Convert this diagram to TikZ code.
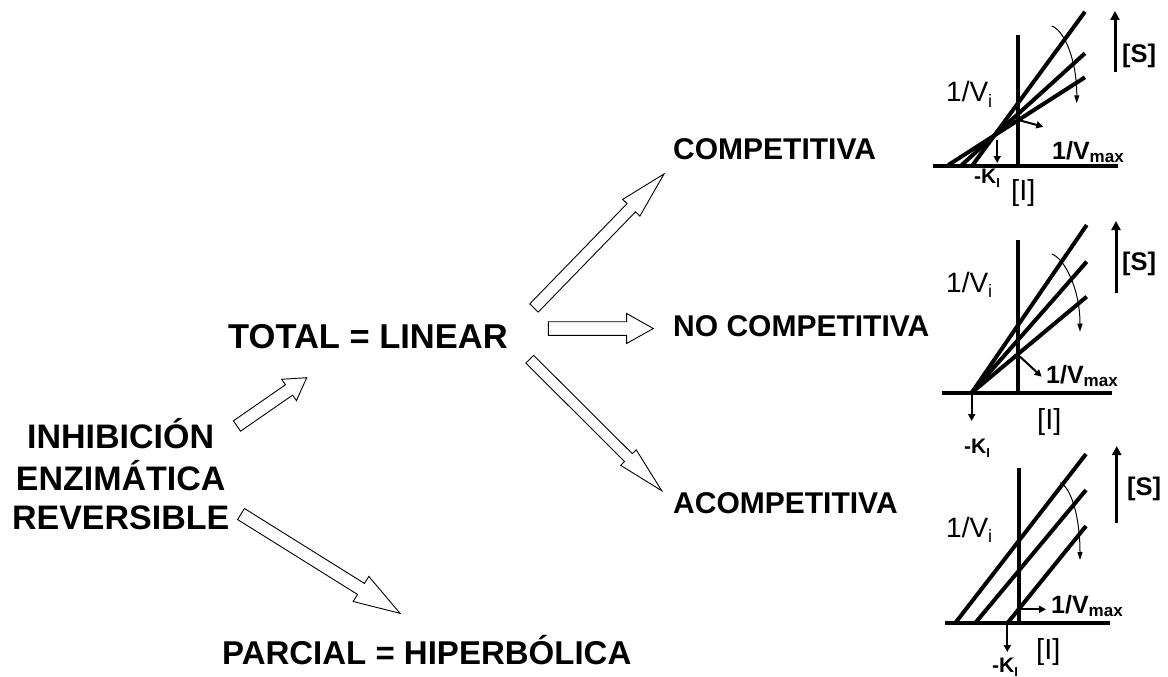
\documentclass[tikz,border=0pt]{standalone}
\usepackage{fontspec}
\setmainfont{Liberation Sans}
\usetikzlibrary{calc,arrows.meta}
\newcommand{\subtxt}[3][0.2em]{\raisebox{-#1}{\fontsize{#2}{#2}\selectfont #3}}
\newcommand{\myblockarrow}[5]{%
 \draw[blockarr] let \p1=($(#2)-(#1)$), \n1={atan2(\y1,\x1)} in
 ($(#1)+(\n1+90:#3pt)$) -- ($(#2)+(\n1+180:#5pt)+(\n1+90:#3pt)$) -- ($(#2)+(\n1+180:#5pt)+(\n1+90:#4pt)$) -- (#2) -- ($(#2)+(\n1+180:#5pt)+(\n1-90:#4pt)$) -- ($(#2)+(\n1+180:#5pt)+(\n1-90:#3pt)$) -- ($(#1)+(\n1-90:#3pt)$) -- cycle;}
\begin{document}
\begin{tikzpicture}[x=1pt,y=-1pt,
  bigtxt/.style={inner sep=0pt, anchor=base west, font=\fontsize{34.5}{40}\selectfont\bfseries},
  inhtxt/.style={inner sep=0pt, anchor=base, font=\fontsize{34}{40}\selectfont\bfseries},
  midtxt/.style={inner sep=0pt, anchor=base west, font=\fontsize{30}{36}\selectfont\bfseries},
  vitxt/.style={inner sep=0pt, anchor=base west, font=\fontsize{28}{32}\selectfont},
  vmaxtxt/.style={inner sep=0pt, anchor=base west, font=\fontsize{25}{30}\selectfont\bfseries},
  kitxt/.style={inner sep=0pt, anchor=base west, font=\fontsize{21}{25}\selectfont\bfseries},
  itxt/.style={inner sep=0pt, anchor=base west, font=\fontsize{29}{33}\selectfont},
  stxt/.style={inner sep=0pt, anchor=base west, font=\fontsize{25.5}{30}\selectfont\bfseries},
  blockarr/.style={draw=black, line width=0.9pt, fill=white, line join=miter},
  axisline/.style={line width=4pt},
  plotline/.style={line width=4pt},
  smallarr/.style={line width=2pt, -{Triangle[length=7pt,width=7pt]}},
  sarr/.style={line width=3pt, -{Triangle[length=9pt,width=9pt]}},
  curvarr/.style={line width=1pt, -{Triangle[length=8pt,width=5pt]}}
]
\useasboundingbox (0,0) rectangle (1168,677);

% ---- main texts ----
\node[inhtxt] (inh1) at (120.7,448) {INHIBICIÓN};
\node[inhtxt] (inh2) at (120.7,490) {ENZIMÁTICA};
\node[inhtxt] (inh3) at (120.7,529) {REVERSIBLE};
\node[bigtxt] (total) at (228,348) {TOTAL = LINEAR};
\node[bigtxt, font=\fontsize{33}{38}\selectfont\bfseries] (parcial) at (222,664) {PARCIAL = HIPERBÓLICA};
\node[midtxt] (comp) at (673,159) {COMPETITIVA};
\node[midtxt] (nocomp) at (673,336) {NO COMPETITIVA};
\node[midtxt] (acomp) at (673,513) {ACOMPETITIVA};

% ---- block arrows ----
\coordinate (a1s) at (237,426);   \coordinate (a1e) at (306.7,377.7);
\coordinate (a2s) at (241,514);   \coordinate (a2e) at (400,613.3);
\coordinate (a3s) at (534,308);   \coordinate (a3e) at (664,174);
\coordinate (a4s) at (548.3,328.5); \coordinate (a4e) at (653.3,328.5);
\coordinate (a5s) at (529.7,359.2); \coordinate (a5e) at (661.7,490.7);
\myblockarrow{a1s}{a1e}{6.3}{13}{21.5}
\myblockarrow{a2s}{a2e}{6.5}{14.8}{46}
\myblockarrow{a3s}{a3e}{5.9}{12}{47}
\myblockarrow{a4s}{a4e}{6.8}{15}{26.7}
\myblockarrow{a5s}{a5e}{5.5}{11}{47}

% ---- graph 1: competitiva ----
\draw[axisline] (933,165.7) -- (1118,165.7);
\draw[axisline] (1017.7,35) -- (1017.7,165.7);
\draw[plotline] (972.7,165) -- (1085,11.7);
\draw[plotline] (961.7,165) -- (1085,53.3);
\draw[plotline] (948.3,165) -- (1085,77.3);
\draw[smallarr] (997.2,140) -- (997.2,163);
\draw[smallarr] (1018.3,120) -- (1043.3,126.7);
\draw[sarr] (1115,71.7) -- (1115,11);
\draw[curvarr] (1051.7,26) .. controls (1064,30) and (1077,60) .. (1076.7,103.3);
\node[vitxt] (vi1) at (946,102) {1/V\subtxt{18}{i}};
\node[vmaxtxt] (vmax1) at (1052,159.5) {1/V\subtxt[0.1em]{17}{max}};
\node[kitxt] (ki1) at (974,183) {-K\subtxt{13}{I}};
\node[itxt] (i1) at (1011,200) {[I]};
\node[stxt] (s1) at (1122,63) {[S]};

% ---- graph 2: no competitiva ----
\draw[axisline] (941.7,392.7) -- (1111.7,392.7);
\draw[axisline] (1017.7,240) -- (1017.7,392.7);
\draw[plotline] (971.7,392.7) -- (1086.7,225);
\draw[plotline] (971.7,392.7) -- (1086.7,261.7);
\draw[plotline] (971.7,392.7) -- (1086.7,296.7);
\draw[smallarr] (971.7,394) -- (971.7,421);
\draw[smallarr] (1020,356.7) -- (1041.7,376.7);
\draw[sarr] (1116,293.3) -- (1116,221);
\draw[curvarr] (1051.7,254) .. controls (1064,258) and (1080,288) .. (1080,331.7);
\node[vitxt] (vi2) at (946,292) {1/V\subtxt{18}{i}};
\node[vmaxtxt] (vmax2) at (1046,383.5) {1/V\subtxt[0.1em]{17}{max}};
\node[kitxt] (ki2) at (964,453) {-K\subtxt{13}{I}};
\node[itxt] (i2) at (1037,429) {[I]};
\node[stxt] (s2) at (1122,270) {[S]};

% ---- graph 3: acompetitiva ----
\draw[axisline] (945,623.3) -- (1110,623.3);
\draw[axisline] (1019,468.3) -- (1019,623.3);
\draw[plotline] (955,623.3) -- (1086,454);
\draw[plotline] (975,623.3) -- (1086,490);
\draw[plotline] (1007.3,623.3) -- (1086,526);
\draw[smallarr] (1007.3,625) -- (1007.3,652);
\draw[smallarr] (1020,609.3) -- (1046,609.3);
\draw[sarr] (1116.7,523.3) -- (1116.7,446);
\draw[curvarr] (1060,482.7) .. controls (1071,487) and (1080,517) .. (1080,560);
\node[vitxt] (vi3) at (946,537) {1/V\subtxt{18}{i}};
\node[vmaxtxt] (vmax3) at (1051,613.5) {1/V\subtxt[0.1em]{17}{max}};
\node[kitxt] (ki3) at (992,672) {-K\subtxt{13}{I}};
\node[itxt] (i3) at (1036,659) {[I]};
\node[stxt] (s3) at (1127,495) {[S]};
\end{tikzpicture}
\end{document}
